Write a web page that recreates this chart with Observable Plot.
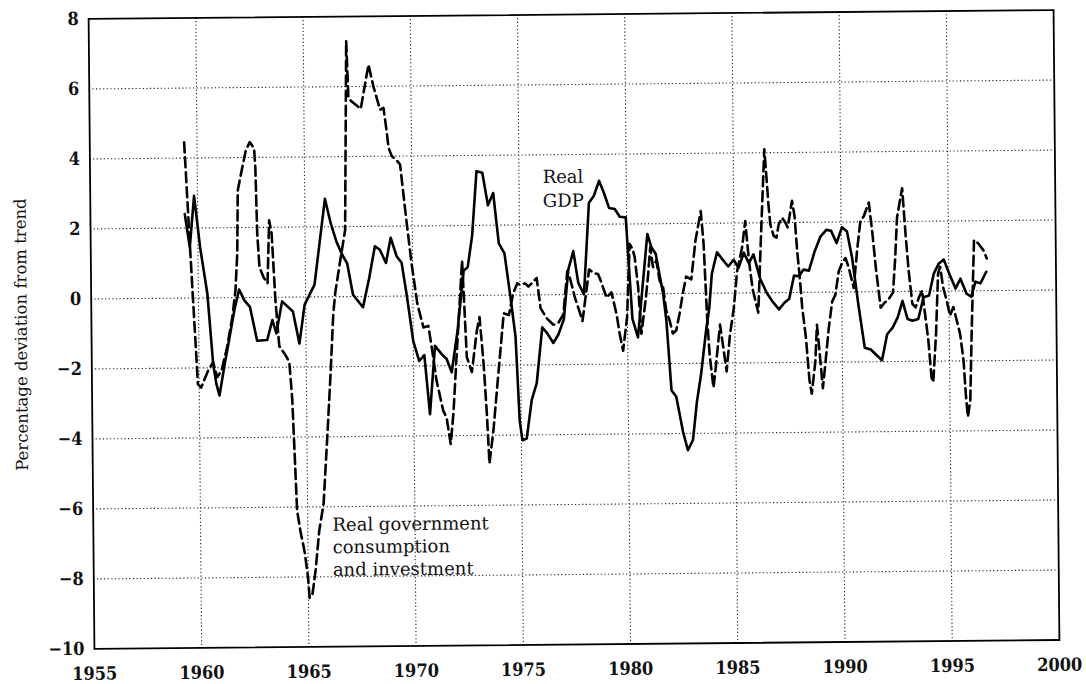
<!DOCTYPE html>
<html><head><meta charset="utf-8">
<script src="https://cdn.jsdelivr.net/npm/d3@7"></script>
<script src="https://cdn.jsdelivr.net/npm/@observablehq/plot@0.6"></script>
<style>
body{margin:0;background:#fff;}
#chart{width:1086px;height:684px;position:relative;overflow:hidden;}
#chart svg{transform:rotate(-0.53deg);transform-origin:573px 329px;}
</style></head><body><div id="chart"></div>
<script>
const gdpYear = [1959.40,1959.62,1959.84,1960.10,1960.42,1960.66,1960.80,1960.94,1961.20,1961.44,1961.67,1961.90,1962.14,1962.40,1962.72,1963.19,1963.44,1963.62,1963.90,1964.40,1964.69,1964.95,1965.42,1965.94,1966.20,1966.46,1966.73,1966.95,1967.21,1967.67,1967.97,1968.25,1968.48,1968.76,1968.99,1969.26,1969.49,1969.71,1970.00,1970.27,1970.51,1970.75,1971.01,1971.32,1971.55,1971.78,1972.07,1972.38,1972.57,1972.79,1973.02,1973.29,1973.54,1973.79,1974.03,1974.29,1974.55,1974.77,1974.93,1975.05,1975.25,1975.50,1975.74,1976.02,1976.25,1976.53,1976.77,1977.03,1977.26,1977.50,1977.72,1977.98,1978.25,1978.48,1978.73,1978.95,1979.19,1979.45,1979.68,1979.96,1980.05,1980.23,1980.48,1980.96,1981.14,1981.34,1981.67,1981.81,1982.02,1982.24,1982.54,1982.76,1983.00,1983.20,1983.41,1983.65,1983.82,1983.95,1984.20,1984.47,1984.72,1984.97,1985.20,1985.45,1985.68,1985.90,1986.20,1986.50,1986.80,1987.07,1987.31,1987.55,1987.78,1988.01,1988.23,1988.48,1988.75,1989.03,1989.31,1989.53,1989.78,1990.04,1990.27,1990.50,1990.77,1991.05,1991.33,1991.59,1991.85,1992.10,1992.36,1992.60,1992.83,1993.06,1993.29,1993.56,1993.81,1994.07,1994.30,1994.53,1994.77,1995.05,1995.31,1995.54,1995.82,1996.04,1996.24,1996.47,1996.75];
const gdpValue = [2.40,1.45,2.92,1.45,0.11,-1.89,-2.46,-2.79,-1.89,-1.12,-0.36,0.23,-0.08,-0.27,-1.24,-1.22,-0.65,-1.03,-0.12,-0.41,-1.33,-0.22,0.35,2.80,2.10,1.57,1.19,0.95,0.05,-0.31,0.52,1.43,1.33,0.95,1.67,1.14,0.95,0.05,-1.29,-1.86,-1.69,-3.38,-1.43,-1.67,-1.81,-2.19,-1.00,0.71,0.81,1.71,3.55,3.50,2.57,2.92,1.48,1.19,-0.05,-1.19,-3.60,-4.15,-4.10,-3.00,-2.52,-0.93,-1.10,-1.38,-1.14,-0.71,0.71,1.24,0.33,0.00,2.62,2.81,3.24,2.90,2.46,2.43,2.21,2.19,1.20,-0.71,-1.24,1.71,1.33,1.14,0.00,-0.76,-2.76,-2.95,-3.95,-4.48,-4.19,-3.10,-2.30,-1.10,-0.40,0.55,1.17,0.95,0.76,0.95,0.72,1.15,0.85,1.10,0.40,0.00,-0.28,-0.48,-0.30,-0.18,0.48,0.46,0.65,0.62,1.16,1.59,1.78,1.75,1.40,1.85,1.73,0.97,-0.36,-1.60,-1.65,-1.81,-1.96,-1.22,-1.03,-0.74,-0.27,-0.79,-0.84,-0.79,-0.17,-0.12,0.50,0.78,0.90,0.45,0.07,0.35,-0.08,-0.17,0.26,0.21,0.54];
const govYear = [1959.40,1959.65,1959.94,1960.09,1960.42,1960.66,1960.84,1961.05,1961.32,1961.57,1961.73,1961.83,1961.88,1962.04,1962.27,1962.46,1962.66,1962.71,1962.77,1962.86,1963.05,1963.23,1963.33,1963.44,1963.59,1963.75,1963.98,1964.21,1964.33,1964.41,1964.51,1964.66,1964.85,1964.99,1965.06,1965.19,1965.35,1965.53,1965.75,1965.95,1966.13,1966.28,1966.38,1966.62,1966.87,1967.00,1967.08,1967.23,1967.65,1968.03,1968.25,1968.55,1968.71,1968.85,1968.93,1969.08,1969.28,1969.46,1969.75,1969.96,1970.21,1970.48,1970.71,1970.86,1971.07,1971.37,1971.52,1971.70,1971.84,1972.03,1972.31,1972.49,1972.72,1972.97,1973.10,1973.27,1973.40,1973.50,1973.70,1973.97,1974.23,1974.47,1974.68,1974.87,1975.00,1975.24,1975.39,1975.55,1975.78,1975.95,1976.23,1976.54,1976.77,1977.01,1977.21,1977.33,1977.56,1977.71,1977.90,1978.23,1978.42,1978.65,1978.80,1979.03,1979.26,1979.49,1979.63,1979.78,1979.98,1980.13,1980.26,1980.36,1980.51,1980.64,1980.85,1980.97,1981.09,1981.21,1981.37,1981.51,1981.67,1981.81,1981.96,1982.11,1982.27,1982.43,1982.59,1982.75,1982.99,1983.20,1983.46,1983.58,1983.72,1983.82,1983.98,1984.09,1984.31,1984.48,1984.60,1984.77,1984.96,1985.13,1985.37,1985.53,1985.69,1985.85,1986.10,1986.25,1986.45,1986.53,1986.62,1986.70,1986.85,1986.98,1987.09,1987.25,1987.40,1987.51,1987.64,1987.72,1987.83,1987.94,1988.05,1988.15,1988.31,1988.46,1988.56,1988.74,1988.83,1988.90,1989.08,1989.20,1989.38,1989.55,1989.70,1989.87,1990.03,1990.19,1990.34,1990.56,1990.73,1990.90,1991.06,1991.30,1991.46,1991.60,1991.81,1992.00,1992.15,1992.39,1992.50,1992.61,1992.78,1992.86,1992.93,1993.00,1993.13,1993.29,1993.44,1993.60,1993.75,1994.02,1994.15,1994.23,1994.38,1994.50,1994.60,1994.73,1994.89,1995.04,1995.20,1995.50,1995.65,1995.74,1995.83,1995.95,1996.04,1996.12,1996.19,1996.39,1996.62,1996.78];
const govValue = [4.45,1.20,-2.46,-2.56,-2.08,-1.84,-2.27,-2.08,-1.40,-0.57,0.20,1.26,3.06,3.54,4.20,4.44,4.26,3.71,1.83,0.86,0.57,0.40,2.20,1.83,-0.08,-1.40,-1.60,-1.85,-2.90,-4.30,-6.10,-6.70,-7.30,-8.00,-8.60,-8.50,-7.80,-6.70,-5.90,-4.00,-2.20,-0.50,0.10,1.00,1.90,7.30,5.67,5.57,5.36,6.62,6.00,5.33,5.38,4.71,4.24,4.00,3.90,3.76,2.05,0.90,-0.24,-0.90,-0.86,-1.48,-2.43,-3.29,-3.48,-4.24,-3.38,-1.57,1.00,-1.76,-2.19,-1.00,-0.62,-1.95,-3.38,-4.81,-3.86,-2.14,-0.52,-0.57,0.05,0.33,0.29,0.33,0.24,0.33,0.48,-0.38,-0.67,-0.86,-0.81,-0.57,0.67,0.48,-0.10,-0.38,-0.76,0.71,0.62,0.57,0.33,-0.10,0.05,-0.57,-1.14,-1.62,-0.67,1.43,1.29,1.05,0.19,-1.14,-0.19,0.48,1.33,0.76,0.95,0.38,0.19,-0.48,-0.76,-1.14,-1.05,-0.57,0.00,0.48,0.40,1.50,2.35,1.40,-0.80,-1.80,-2.70,-2.14,-0.90,-1.67,-2.24,-1.19,-0.43,0.62,1.29,2.05,0.90,0.10,-0.57,1.50,4.10,3.38,2.52,1.95,1.62,1.57,1.95,2.14,2.00,1.86,2.33,2.62,2.19,1.19,0.43,-0.43,-1.29,-2.52,-2.90,-1.98,-0.93,-1.41,-2.74,-2.08,-1.03,-0.27,-0.08,0.59,0.83,0.97,0.69,0.11,1.16,2.02,2.16,2.55,1.64,0.69,-0.46,-0.31,-0.25,-0.03,0.88,2.11,2.69,2.95,2.30,1.64,0.59,-0.36,-0.46,-0.17,0.02,-1.41,-2.46,-2.60,-1.22,0.50,0.69,0.11,-0.27,-0.70,-0.46,-1.22,-1.98,-2.93,-3.60,-3.12,-1.22,0.21,1.45,1.35,1.16,0.92];
const xTicks = [1955,1960,1965,1970,1975,1980,1985,1990,1995,2000];
const yTicks = [-10,-8,-6,-4,-2,0,2,4,6,8];
const xGrid = [1960,1965,1970,1975,1980,1985,1990,1995];
const yGrid = [-8,-6,-4,-2,0,2,4,6];
const yTitle = "Percentage deviation from trend";
const labelText = ["Real\nGDP", "Real government\nconsumption\nand investment"];
const labelYear = [1976.1, 1966.15];
const labelValue = [3.68, -6.23];

const gdp = gdpYear.map((t, i) => ({year: t, value: gdpValue[i]}));
const gov = govYear.map((t, i) => ({year: t, value: govValue[i]}));
const labels = labelText.map((t, i) => ({text: t, year: labelYear[i], value: labelValue[i]}));
const minus = d => d < 0 ? "\u2212" + Math.abs(d) : String(d);
const gridStyle = {stroke: "#222", strokeWidth: 1.1, strokeDasharray: "1.2,2.4"};
const tickFont = "'DejaVu Serif Condensed', 'DejaVu Serif', serif";

const chart = Plot.plot({
  width: 1086,
  height: 684,
  marginLeft: 91,
  marginRight: 30,
  marginTop: 14,
  marginBottom: 40,
  style: {fontFamily: "'DejaVu Serif', serif", fontSize: "17px", color: "#111", background: "#fff"},
  x: {domain: [1955, 2000]},
  y: {domain: [-10, 8]},
  marks: [
    Plot.ruleX(xGrid, gridStyle),
    Plot.ruleY(yGrid, gridStyle),
    Plot.axisX({ticks: xTicks, tickSize: 0, tickPadding: 18, tickFormat: d => String(d), label: null, fontWeight: "bold", fontSize: 18, fontFamily: tickFont}),
    Plot.axisY({ticks: yTicks, tickSize: 0, tickPadding: 10, tickFormat: minus, label: null, fontWeight: "bold", fontSize: 18, fontFamily: tickFont}),
    Plot.text([yTitle], {frameAnchor: "left", textAnchor: "middle", text: d => d, rotate: -90, dx: -70, fontSize: 16.5, fill: "#111"}),
    Plot.line(gov, {x: "year", y: "value", stroke: "#000", strokeWidth: 2.6, strokeDasharray: "10,5"}),
    Plot.line(gdp, {x: "year", y: "value", stroke: "#000", strokeWidth: 2.6}),
    Plot.text(labels.slice(0,1), {x: "year", y: "value", text: "text", textAnchor: "start", lineAnchor: "top", lineHeight: 1.33, fontSize: 18, fill: "#111"}),
    Plot.text(labels.slice(1), {x: "year", y: "value", text: "text", textAnchor: "start", lineAnchor: "top", lineHeight: 1.25, fontSize: 18, fill: "#111"}),
    Plot.frame({stroke: "#000", strokeWidth: 1.8})
  ]
});
document.getElementById("chart").appendChild(chart);
</script></body></html>
